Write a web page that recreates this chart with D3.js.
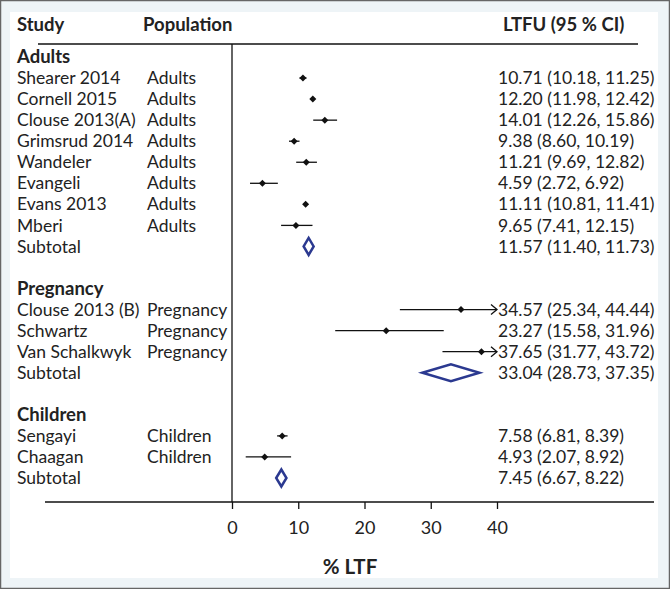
<!DOCTYPE html>
<html>
<head>
<meta charset="utf-8">
<script src="https://cdn.jsdelivr.net/npm/d3@7"></script>
<style>
  body { margin: 0; background: #fff; }
  svg text { font-family: Lato, "Open Sans", sans-serif; fill: #222; }
</style>
</head>
<body>
<div id="chart"></div>
<script>
// groups of studies
var groups = ["Adults", "Pregnancy", "Children"];

var adultStudies = ["Shearer 2014", "Cornell 2015", "Clouse 2013(A)", "Grimsrud 2014", "Wandeler", "Evangeli", "Evans 2013", "Mberi"];
var adultEst = [10.71, 12.20, 14.01, 9.38, 11.21, 4.59, 11.11, 9.65];
var adultLo  = [10.18, 11.98, 12.26, 8.60, 9.69, 2.72, 10.81, 7.41];
var adultHi  = [11.25, 12.42, 15.86, 10.19, 12.82, 6.92, 11.41, 12.15];

var pregStudies = ["Clouse 2013 (B)", "Schwartz", "Van Schalkwyk"];
var pregEst = [34.57, 23.27, 37.65];
var pregLo  = [25.34, 15.58, 31.77];
var pregHi  = [44.44, 31.96, 43.72];

var childStudies = ["Sengayi", "Chaagan"];
var childEst = [7.58, 4.93];
var childLo  = [6.81, 2.07];
var childHi  = [8.39, 8.92];

// subtotal per group
var subEst = [11.57, 33.04, 7.45];
var subLo  = [11.40, 28.73, 6.67];
var subHi  = [11.73, 37.35, 8.22];

var xTicks = [0, 10, 20, 30, 40];

var W = 670, H = 589;
var fs = 17.5;

var svg = d3.select("#chart").append("svg")
    .attr("width", W)
    .attr("height", H);

// frame
svg.append("rect").attr("x", 0.5).attr("y", 0.5).attr("width", W - 1).attr("height", H - 1)
    .attr("fill", "#eef4f7").attr("stroke", "#666").attr("stroke-width", 1.5);
svg.append("rect").attr("x", 10).attr("y", 12).attr("width", 648).attr("height", 566)
    .attr("fill", "#fff");

// build the row table
var rows = [];
var studyGroups = [
    {names: adultStudies, est: adultEst, lo: adultLo, hi: adultHi, pop: "Adults"},
    {names: pregStudies, est: pregEst, lo: pregLo, hi: pregHi, pop: "Pregnancy"},
    {names: childStudies, est: childEst, lo: childLo, hi: childHi, pop: "Children"}
];
studyGroups.forEach(function(g, gi) {
    rows.push({type: "header", label: groups[gi]});
    g.names.forEach(function(n, i) {
        rows.push({type: "study", label: n, pop: g.pop, est: g.est[i], lo: g.lo[i], hi: g.hi[i]});
    });
    rows.push({type: "sub", label: "Subtotal", est: subEst[gi], lo: subLo[gi], hi: subHi[gi]});
    if (gi < studyGroups.length - 1) rows.push({type: "blank"});
});

var x = d3.scaleLinear().domain([0, 40]).range([232, 497]);
var y = d3.scaleLinear().domain([0, rows.length - 1]).range([57, 478]);

var axisY = 502;
var fmt = d3.format(".2f");

// header
var headerY = 25;
svg.append("text").attr("x", 17).attr("y", headerY).attr("dy", "0.35em")
    .attr("font-size", 18.5).attr("font-weight", "bold").text("Study");
svg.append("text").attr("x", 143).attr("y", headerY).attr("dy", "0.35em")
    .attr("font-size", 18.5).attr("font-weight", "bold").text("Population");
svg.append("text").attr("x", 503).attr("y", headerY).attr("dy", "0.35em")
    .attr("font-size", 18.5).attr("font-weight", "bold").text("LTFU (95 % CI)");
svg.append("line").attr("x1", 38).attr("x2", 638).attr("y1", 44).attr("y2", 44)
    .attr("stroke", "#111").attr("stroke-width", 1.5);

// vertical zero line
svg.append("line").attr("x1", x(0)).attr("x2", x(0)).attr("y1", 44).attr("y2", axisY)
    .attr("stroke", "#111").attr("stroke-width", 1.3);

// x axis
svg.append("line").attr("x1", 45).attr("x2", 654).attr("y1", axisY).attr("y2", axisY)
    .attr("stroke", "#111").attr("stroke-width", 1.3);
var axis = svg.append("g").attr("transform", "translate(0," + axisY + ")")
    .call(d3.axisBottom(x).tickValues(xTicks).tickSize(7).tickPadding(12));
axis.select(".domain").remove();
axis.selectAll(".tick line").attr("stroke", "#111").attr("stroke-width", 1.3);
axis.selectAll(".tick text").attr("font-size", 18).attr("font-family", "Lato, sans-serif").attr("fill", "#222");

svg.append("text").attr("x", 350).attr("y", 567).attr("dy", "0.35em")
    .attr("text-anchor", "middle").attr("font-size", 20.5).attr("font-weight", "bold").text("% LTF");

// row labels
var rowG = svg.selectAll("g.row").data(rows).enter().append("g")
    .attr("class", "row")
    .attr("transform", function(d, i) { return "translate(0," + y(i) + ")"; });

rowG.filter(function(d) { return d.type !== "blank"; }).append("text")
    .attr("x", 17).attr("dy", "0.35em").attr("font-size", function(d) { return d.type === "header" ? 18.5 : fs; })
    .attr("font-weight", function(d) { return d.type === "header" ? "bold" : "normal"; })
    .text(function(d) { return d.label; });

rowG.filter(function(d) { return d.type === "study"; }).append("text")
    .attr("x", 147).attr("dy", "0.35em").attr("font-size", fs)
    .text(function(d) { return d.pop; });

rowG.filter(function(d) { return d.type === "study" || d.type === "sub"; }).append("text")
    .attr("x", 498).attr("dy", "0.35em").attr("font-size", fs)
    .text(function(d) { return fmt(d.est) + " (" + fmt(d.lo) + ", " + fmt(d.hi) + ")"; });

// study CIs
var st = rowG.filter(function(d) { return d.type === "study"; });
st.append("line")
    .attr("x1", function(d) { return x(Math.max(d.lo, 0)); })
    .attr("x2", function(d) { return d.hi > 40 ? x(40) : x(d.hi); })
    .attr("y1", 0).attr("y2", 0)
    .attr("stroke", "#111").attr("stroke-width", 1.3);
st.filter(function(d) { return d.hi > 40; }).append("path")
    .attr("d", function(d) { var t = x(40); return "M" + (t - 6) + ",-5L" + t + ",0L" + (t - 6) + ",5"; })
    .attr("fill", "none").attr("stroke", "#111").attr("stroke-width", 1.3);
st.append("path")
    .attr("d", function(d) { var c = x(d.est); return "M" + (c - 3.5) + ",0L" + c + ",-3.5L" + (c + 3.5) + ",0L" + c + ",3.5Z"; })
    .attr("fill", "#111");

// subtotal diamonds
rowG.filter(function(d) { return d.type === "sub"; }).append("path")
    .attr("d", function(d) {
        var c = x(d.est);
        var l = Math.min(x(d.lo), c - 5), r = Math.max(x(d.hi), c + 5);
        return "M" + l + ",0L" + c + ",-8.5L" + r + ",0L" + c + ",8.5Z";
    })
    .attr("fill", "#fff").attr("stroke", "#2b3990").attr("stroke-width", 2.5);
</script>
</body>
</html>
